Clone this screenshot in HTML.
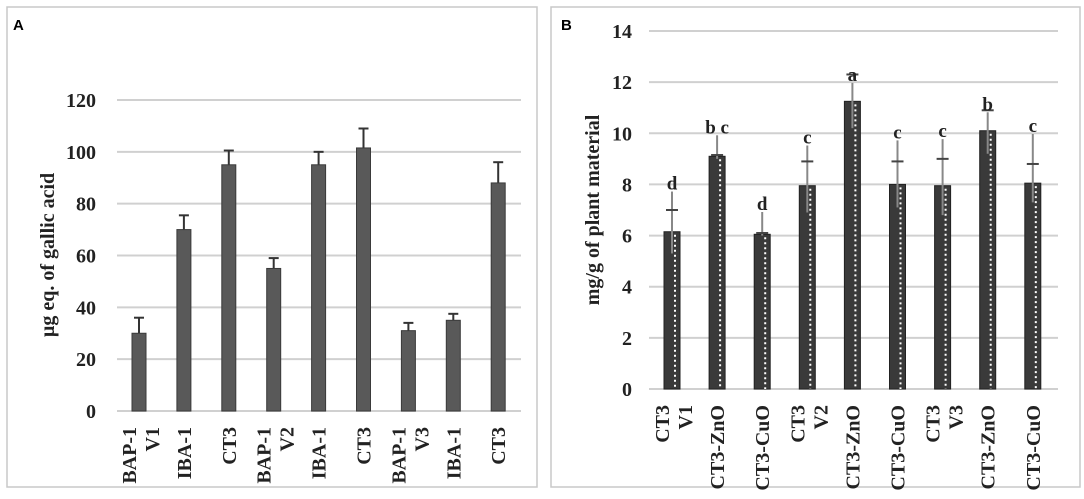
<!DOCTYPE html>
<html><head><meta charset="utf-8"><style>
body{margin:0;background:#fff;width:1084px;height:494px;overflow:hidden}
text{font-family:"Liberation Serif",serif;font-weight:700}
</style></head><body>
<svg id="s" width="1084" height="494" xmlns="http://www.w3.org/2000/svg">
<rect x="7" y="7" width="530" height="480" fill="none" stroke="#c8c8c8" stroke-width="1.5"/>
<rect x="551" y="7" width="529" height="480" fill="none" stroke="#c8c8c8" stroke-width="1.5"/>
<text x="13" y="30" font-size="15" font-weight="bold" style="font-family:'Liberation Sans',sans-serif">A</text>
<text x="561" y="30" font-size="15" font-weight="bold" style="font-family:'Liberation Sans',sans-serif">B</text>
<text transform="translate(54,255) rotate(-90)" text-anchor="middle" font-size="20" font-weight="bold" fill="#222">µg eq. of gallic acid</text>
<text transform="translate(599,210) rotate(-90)" text-anchor="middle" font-size="20" font-weight="bold" fill="#222">mg/g of plant material</text>
<g id="ga"></g><g id="gb"></g>
</svg>
<script>
const catsA=[["BAP-1","V1"],["IBA-1"],["CT3"],["BAP-1","V2"],["IBA-1"],["CT3"],["BAP-1","V3"],["IBA-1"],["CT3"]];
const valsA=[30,70,95,55,95,101.5,31,35,88];
const errA=[36,75.5,100.5,59,100,109,34,37.5,96];
const ticksA=[0,20,40,60,80,100,120];
const catsB=[["CT3","V1"],["CT3-ZnO"],["CT3-CuO"],["CT3","V2"],["CT3-ZnO"],["CT3-CuO"],["CT3","V3"],["CT3-ZnO"],["CT3-CuO"]];
const valsB=[6.15,9.1,6.05,7.95,11.25,8.0,7.95,10.1,8.05];
const capB=[7.0,9.15,6.1,8.9,12.3,8.9,9.0,10.9,8.8];
const lowB=[5.3,9.0,6.0,6.9,10.2,7.1,6.8,9.2,7.3];
const lettersB=["d","b c","d","c","a","c","c","b","c"];
const letterPosB=[7.8,10.0,7.0,9.6,12.05,9.8,9.85,10.9,10.05];
const ticksB=[0,2,4,6,8,10,12,14];
const NS="http://www.w3.org/2000/svg";
function mk(p,t,a){const e=document.createElementNS(NS,t);for(const k in a)e.setAttribute(k,a[k]);if(t==='text')e.setAttribute('font-weight','bold');p.appendChild(e);return e;}
// Panel A
const ga=document.getElementById('ga');
const yA=v=>411-v*(311/120), xA=i=>139+i*44.9;
ticksA.forEach(t=>{
 const l=mk(ga,'line',{x1:117,x2:521,y1:yA(t),y2:yA(t),stroke:'#d0d0d0','stroke-width':2});
 
 
 const tx=mk(ga,'text',{x:96,y:yA(t)+7,'text-anchor':'end','font-size':20,fill:'#222'});tx.textContent=t;
 
 
});
valsA.forEach((v,i)=>{
 const x=xA(i);
 const e=mk(ga,'line',{x1:x,x2:x,y1:yA(errA[i]),y2:yA(v),stroke:'#333','stroke-width':2});
 
 
 mk(ga,'line',{x1:x-5,x2:x+5,y1:yA(errA[i]),y2:yA(errA[i]),stroke:'#333','stroke-width':2});
 const r=mk(ga,'rect',{x:x-7,y:yA(v),width:14,height:yA(0)-yA(v),fill:'#595959',stroke:'#3a3a3a','stroke-width':1});
 
 
 catsA[i].forEach((s,j)=>{
  const off=catsA[i].length===2?(j===0?-10:13):0;
  const t=mk(ga,'text',{transform:`translate(${x+off+7},427) rotate(-90)`,'text-anchor':'end','font-size':20,fill:'#222'});t.textContent=s;
  
  
 });
});
// Panel B
const gb=document.getElementById('gb');
const yB=v=>389-v*(358/14), xB=i=>672+i*45.1;
ticksB.forEach(t=>{
 const l=mk(gb,'line',{x1:649,x2:1058,y1:yB(t),y2:yB(t),stroke:'#d0d0d0','stroke-width':2});
 
 
 const tx=mk(gb,'text',{x:632,y:yB(t)+7,'text-anchor':'end','font-size':20,fill:'#222'});tx.textContent=t;
 
 
});
valsB.forEach((v,i)=>{
 const x=xB(i);
 const r=mk(gb,'rect',{x:x-8,y:yB(v),width:16,height:yB(0)-yB(v),fill:'#3a3a3a',stroke:'#222','stroke-width':1});
 
 
 mk(gb,'line',{x1:x+3,x2:x+3,y1:yB(v)+3,y2:yB(0),stroke:'#fff','stroke-width':2,'stroke-dasharray':'2 3'});
 const e=mk(gb,'line',{x1:x,x2:x,y1:yB(letterPosB[i])+2,y2:yB(lowB[i]),stroke:'#888','stroke-width':2});
 
 
 mk(gb,'line',{x1:x-6,x2:x+6,y1:yB(capB[i]),y2:yB(capB[i]),stroke:'#444','stroke-width':2});
 const lt=mk(gb,'text',{x:x,y:yB(letterPosB[i]),'text-anchor':'middle','font-size':19,fill:'#222'});lt.textContent=lettersB[i];
 
 
 catsB[i].forEach((s,j)=>{
  const off=catsB[i].length===2?(j===0?-10:13):0;
  const t=mk(gb,'text',{transform:`translate(${x+off+7},405) rotate(-90)`,'text-anchor':'end','font-size':20,fill:'#222'});t.textContent=s;
  
  
 });
});
</script>
</body></html>
